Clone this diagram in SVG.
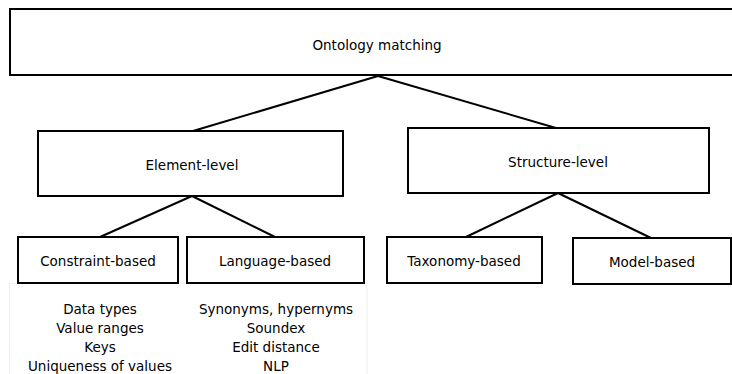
<svg xmlns="http://www.w3.org/2000/svg" width="732" height="374" viewBox="0 0 732 374">
<style>
.box{fill:#fff;stroke:#000;stroke-width:2}
.ln{stroke:#000;stroke-width:2;fill:none}
text{font-family:"DejaVu Sans","Verdana",sans-serif;font-size:13.5px;fill:#000;text-anchor:middle}
</style>
<rect width="732" height="374" fill="#fff"/>
<rect x="9.5" y="283.5" width="357.5" height="100" fill="#fff" stroke="#ececec" stroke-width="0.8"/>
<g id="connectors">
<line class="ln" x1="378" y1="76" x2="193" y2="131"/>
<line class="ln" x1="378" y1="76" x2="556" y2="128"/>
<line class="ln" x1="192" y1="196" x2="100" y2="237"/>
<line class="ln" x1="192" y1="196" x2="275" y2="237"/>
<line class="ln" x1="558" y1="193" x2="466" y2="237"/>
<line class="ln" x1="558" y1="193" x2="651" y2="238"/>
</g>
<g id="ontology-matching"><rect class="box" x="10" y="9" width="730" height="66"/><text x="377" y="50">Ontology matching</text></g>
<g id="element-level"><rect class="box" x="38" y="131" width="305" height="65"/><text x="192" y="170">Element-level</text></g>
<g id="structure-level"><rect class="box" x="408" y="128" width="301" height="65"/><text x="558" y="167">Structure-level</text></g>
<g id="constraint-based"><rect class="box" x="18" y="237" width="160" height="46"/><text x="98" y="266">Constraint-based</text></g>
<g id="language-based"><rect class="box" x="187" y="237" width="177" height="46"/><text x="275" y="266">Language-based</text></g>
<g id="taxonomy-based"><rect class="box" x="387" y="237" width="155" height="46"/><text x="464" y="266">Taxonomy-based</text></g>
<g id="model-based"><rect class="box" x="573" y="238" width="158" height="46"/><text x="652" y="267">Model-based</text></g>
<g id="constraint-list">
<text x="100" y="314">Data types</text>
<text x="100" y="333">Value ranges</text>
<text x="100" y="352">Keys</text>
<text x="100" y="371">Uniqueness of values</text>
</g>
<g id="language-list">
<text x="276" y="314">Synonyms, hypernyms</text>
<text x="276" y="333">Soundex</text>
<text x="276" y="352">Edit distance</text>
<text x="276" y="371">NLP</text>
</g>
</svg>
